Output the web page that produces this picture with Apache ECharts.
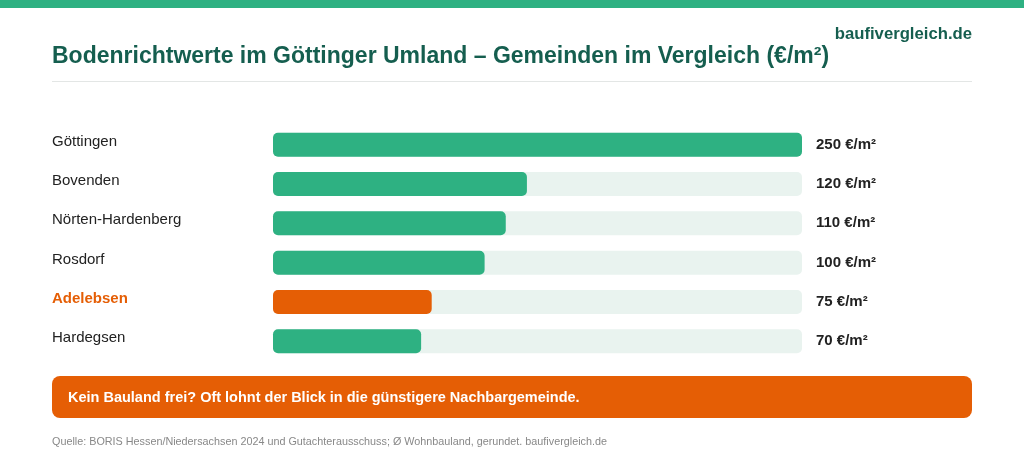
<!DOCTYPE html>
<html>
<head>
<meta charset="utf-8">
<script src="https://cdn.jsdelivr.net/npm/echarts@6/dist/echarts.min.js"></script>
<style>
  html, body { margin: 0; padding: 0; background: #fff; }
  #main { width: 1024px; height: 466px; }
</style>
</head>
<body>
<div id="main"></div>
<script>
// Gemeinden und Bodenrichtwerte (€/m²)
var gemeinden = ['Göttingen', 'Bovenden', 'Nörten-Hardenberg', 'Rosdorf', 'Adelebsen', 'Hardegsen'];
var werte = [250, 120, 110, 100, 75, 70];
var highlight = 'Adelebsen';
var xMax = 250;

var green = '#2eb182';
var orange = '#e55e05';
var track = '#e9f3ef';
var dark = '#155e4f';
var font = 'Liberation Sans, Arial, sans-serif';

var myChart = echarts.init(document.getElementById('main'));

var barData = werte.map(function (v, i) {
    return {
        value: v,
        itemStyle: { color: gemeinden[i] === highlight ? orange : green }
    };
});
var trackData = gemeinden.map(function () { return xMax; });

myChart.setOption({
    backgroundColor: '#fff',
    animation: false,
    grid: { left: 273, right: 222, top: 125, bottom: 105 },
    xAxis: { type: 'value', min: 0, max: xMax, show: false },
    yAxis: {
        type: 'category',
        data: gemeinden,
        inverse: true,
        axisLine: { show: false },
        axisTick: { show: false },
        axisLabel: {
            margin: 221,
            align: 'left',
            padding: [0, 0, 6, 0],
            fontFamily: font,
            fontSize: 15,
            color: '#222',
            formatter: function (v) {
                return v === highlight ? '{hl|' + v + '}' : v;
            },
            rich: {
                hl: { fontFamily: font, fontSize: 15, fontWeight: 'bold', color: orange }
            }
        }
    },
    series: [{
        type: 'bar',
        data: trackData,
        barWidth: 24,
        silent: true,
        itemStyle: { color: track, borderRadius: 5 },
        label: {
            show: true,
            position: 'right',
            distance: 14,
            padding: [3, 0, 0, 0],
            fontFamily: font,
            fontSize: 15,
            fontWeight: 'bold',
            color: '#222',
            formatter: function (p) { return werte[p.dataIndex] + ' €/m²'; }
        }
    }, {
        type: 'bar',
        data: barData,
        barWidth: 24,
        barGap: '-100%',
        itemStyle: { borderRadius: 5 }
    }],
    graphic: [
        { type: 'rect', shape: { x: 0, y: 0, width: 1024, height: 8 }, style: { fill: green } },
        { type: 'text', left: 52, top: 45, style: {
            text: 'Bodenrichtwerte im Göttinger Umland – Gemeinden im Vergleich (€/m²)',
            font: 'bold 23px ' + font, fill: dark } },
        { type: 'text', right: 52, top: 26, style: {
            text: 'baufivergleich.de', font: 'bold 16.7px ' + font, fill: dark } },
        { type: 'rect', shape: { x: 52, y: 81, width: 920, height: 1 }, style: { fill: '#e3e6e5' } },
        { type: 'rect', shape: { x: 52, y: 376, width: 920, height: 42, r: 8 }, style: { fill: orange } },
        { type: 'text', left: 68, top: 390, style: {
            text: 'Kein Bauland frei? Oft lohnt der Blick in die günstigere Nachbargemeinde.',
            font: 'bold 14.5px ' + font, fill: '#fff' } },
        { type: 'text', left: 52, top: 437, style: {
            text: 'Quelle: BORIS Hessen/Niedersachsen 2024 und Gutachterausschuss; Ø Wohnbauland, gerundet. baufivergleich.de',
            font: '10.8px ' + font, fill: '#888' } }
    ]
});

window.addEventListener('resize', function () {
    myChart.resize();
});
</script>
</body>
</html>
